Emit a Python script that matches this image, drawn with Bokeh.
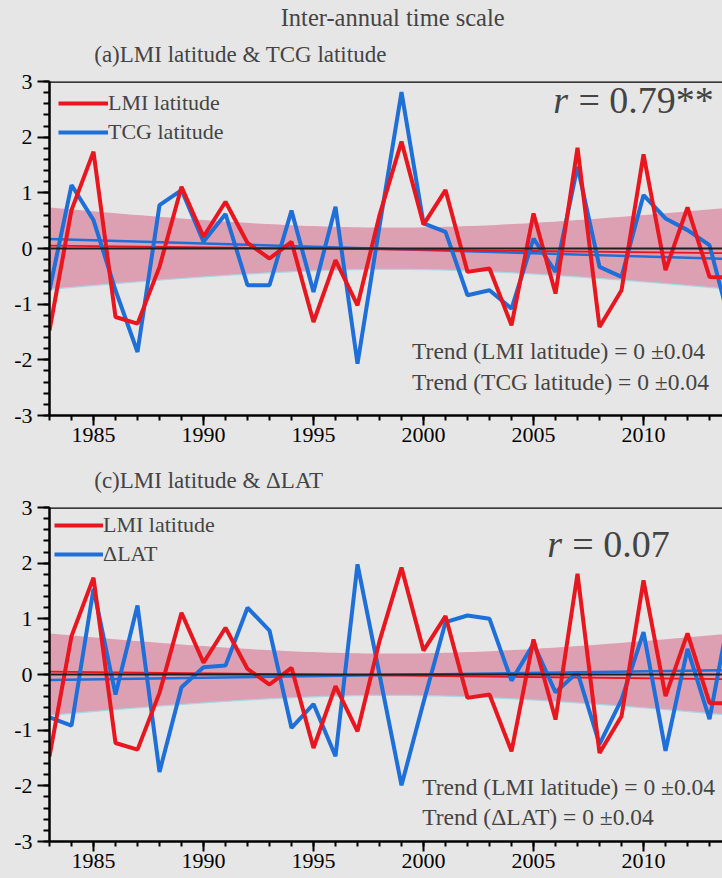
import numpy as np
from bokeh.plotting import figure
from bokeh.models import (Range1d, SingleIntervalTicker, Span, Label, Legend,
                          LegendItem, ColumnDataSource, PrintfTickFormatter)
from bokeh.layouts import column
from bokeh.embed import file_html
from bokeh.resources import INLINE

# ---------------- data ----------------
years = list(range(1983, 2015))
lmi_lat = [-1.47, 0.69, 1.74, -1.23, -1.35, -0.33, 1.11, 0.21, 0.84, 0.10,
           -0.18, 0.12, -1.32, -0.21, -1.02, 0.60, 1.92, 0.43, 1.05, -0.42,
           -0.36, -1.38, 0.63, -0.81, 1.81, -1.41, -0.75, 1.69, -0.39, 0.74,
           -0.51, -0.52]
tcg_lat = [-0.75, 1.14, 0.51, -0.75, -1.86, 0.78, 1.05, 0.12, 0.62, -0.66,
           -0.66, 0.68, -0.78, 0.75, -2.07, 0.40, 2.81, 0.45, 0.30, -0.84,
           -0.75, -1.08, 0.18, -0.42, 1.47, -0.33, -0.51, 0.96, 0.54, 0.33,
           0.06, -1.45]
dlat = [-0.77, -0.92, 1.54, -0.36, 1.24, -1.75, -0.23, 0.13, 0.16, 1.20,
        0.79, -0.96, -0.53, -1.47, 1.98, 0.00, -1.99, -0.50, 0.94, 1.06,
        1.00, -0.11, 0.55, -0.32, 0.04, -1.25, -0.45, 0.76, -1.37, 0.46,
        -0.80, 1.30]

# linear trend lines as drawn (value at first and last year)
trend_years = [1983, 2014]
lmi_trend = [0.05, -0.085]
tcg_trend = [0.17, -0.19]
dlat_trend = [-0.10, 0.08]

main_title = "Inter-annual time scale"
subtitles = ["(a)LMI latitude & TCG latitude", "(c)LMI latitude & \u0394LAT"]
series_names = ["LMI latitude", "TCG latitude", "\u0394LAT"]
r_values = ["= 0.79**", "= 0.07"]
trend_texts = [["Trend (LMI latitude) = 0 \u00b10.04", "Trend (TCG latitude) = 0 \u00b10.04"],
               ["Trend (LMI latitude) = 0 \u00b10.04", "Trend (\u0394LAT) = 0 \u00b10.04"]]
T_975_DF30 = 2.042

# ---------------- style ----------------
FONT = "Liberation Serif"
BG = "#e6e6e6"
RED = "#e8161e"
BLUE = "#1e6fd8"
BAND = "#dda0b3"
BAND_EDGE = "#a9d6e6"
W = 722


def conf_halfwidth(x, y, xs):
    x = np.asarray(x, float)
    y = np.asarray(y, float)
    n = len(x)
    b, a = np.polyfit(x, y, 1)
    resid = y - (a + b * x)
    s = np.sqrt(np.sum(resid ** 2) / (n - 2))
    xbar = x.mean()
    sxx = np.sum((x - xbar) ** 2)
    return T_975_DF30 * s * np.sqrt(1.0 / n + (xs - xbar) ** 2 / sxx), y.mean()


def text_strip(height, labels):
    """A frameless strip holding header texts (pixel coordinates, y up)."""
    p = figure(width=W, height=height, output_backend="svg", toolbar_location=None,
               title=None, x_range=Range1d(0, W), y_range=Range1d(0, height),
               x_axis_location=None, y_axis_location=None, min_border=0,
               min_border_left=0, min_border_right=0,
               min_border_top=0, min_border_bottom=0)
    p.background_fill_color = BG
    p.border_fill_color = BG
    p.outline_line_color = None
    p.grid.visible = False
    for x, y, t, size in labels:
        p.add_layout(Label(x=x, y=y, text=t, text_font=FONT, text_font_size=size,
                           text_baseline="alphabetic"))
    return p


def make_panel(idx, y2, name2, trend2, height, btop, bbot, r_pos, trend_pos, leg):
    p = figure(width=W, height=height, output_backend="svg", toolbar_location=None,
               x_range=Range1d(1983, 2013.59), y_range=Range1d(-3, 3),
               min_border_left=49, min_border_right=0,
               min_border_top=btop, min_border_bottom=bbot)
    p.background_fill_color = BG
    p.border_fill_color = BG
    p.outline_line_color = None
    p.grid.visible = False

    for ax in (p.xaxis[0], p.yaxis[0]):
        ax.axis_line_width = 2.5
        ax.major_tick_line_width = 2
        ax.minor_tick_line_width = 2
        ax.major_tick_in = 0
        ax.minor_tick_in = 0
        ax.major_label_text_font = FONT
        ax.major_label_text_font_size = "22px"
        ax.major_label_text_color = "black"
    p.xaxis.ticker = SingleIntervalTicker(interval=5, num_minor_ticks=5)
    p.yaxis.ticker = SingleIntervalTicker(interval=1, num_minor_ticks=5)
    p.yaxis.formatter = PrintfTickFormatter(format="%d")
    p.xaxis.major_tick_out = 10
    p.xaxis.minor_tick_out = 5
    p.xaxis.major_label_standoff = 2
    p.yaxis.major_tick_out = 12
    p.yaxis.minor_tick_out = 6
    p.yaxis.major_label_standoff = 5

    # 95% confidence band of the LMI regression
    xs = np.linspace(years[0], years[-1], 120)
    half, mean = conf_halfwidth(years, lmi_lat, xs)
    p.varea(x=xs, y1=mean - half, y2=mean + half, fill_color=BAND, fill_alpha=1.0)
    p.line(xs, mean - half, line_color=BAND_EDGE, line_width=1.2)

    p.add_layout(Span(location=0, dimension="width", line_color="#202020", line_width=1.8))
    p.add_layout(Span(location=3, dimension="width", line_color="black", line_width=2.5))

    # trend lines
    p.line(trend_years, trend2, line_color=BLUE, line_width=2.5)
    p.line(trend_years, lmi_trend, line_color=RED, line_width=1.8)

    src = ColumnDataSource(dict(year=years, lmi=lmi_lat, other=y2))
    rb = p.line("year", "other", source=src, line_color=BLUE, line_width=4)
    rr = p.line("year", "lmi", source=src, line_color=RED, line_width=4)

    gw, mg, pd = leg
    legend = Legend(items=[LegendItem(label=series_names[0], renderers=[rr]),
                           LegendItem(label=name2, renderers=[rb])],
                    location="top_left", glyph_width=gw, glyph_height=20,
                    label_standoff=0, spacing=3, padding=pd, margin=mg,
                    label_text_font=FONT, label_text_font_size="22px",
                    background_fill_alpha=0, border_line_alpha=0)
    p.add_layout(legend)

    rx, rx2, ry = r_pos
    p.add_layout(Label(x=rx, y=ry, text="r", text_font=FONT, text_font_style="italic",
                       text_font_size="38px", text_baseline="alphabetic"))
    p.add_layout(Label(x=rx2, y=ry, text=r_values[idx], text_font=FONT,
                       text_font_size="38px", text_baseline="alphabetic"))
    tx, ty1, ty2 = trend_pos
    for t, ty in zip(trend_texts[idx], (ty1, ty2)):
        p.add_layout(Label(x=tx, y=ty, text=t, text_font=FONT, text_font_size="23.5px",
                           text_baseline="alphabetic"))
    return p


head = text_strip(68, [(248, 51, main_title, "24.5px"), (48, 14.5, subtitles[0], "23px")])
p1 = make_panel(0, tcg_lat, series_names[1], tcg_trend, 387, 13, 40,
                (2005.9, 2007.04, 2.66), (1999.48, -1.84, -2.40), (50, 5, 4))
mid = text_strip(39, [(48, 14.5, subtitles[1], "23px")])
p2 = make_panel(1, dlat, series_names[2], dlat_trend, 384, 13, 37,
                (2005.63, 2006.76, 2.35), (1999.94, -2.02, -2.56), (49, 3, 2))

layout = column(head, p1, mid, p2, spacing=0)
layout.background = BG
open("out.html", "w").write(file_html(layout, INLINE))
